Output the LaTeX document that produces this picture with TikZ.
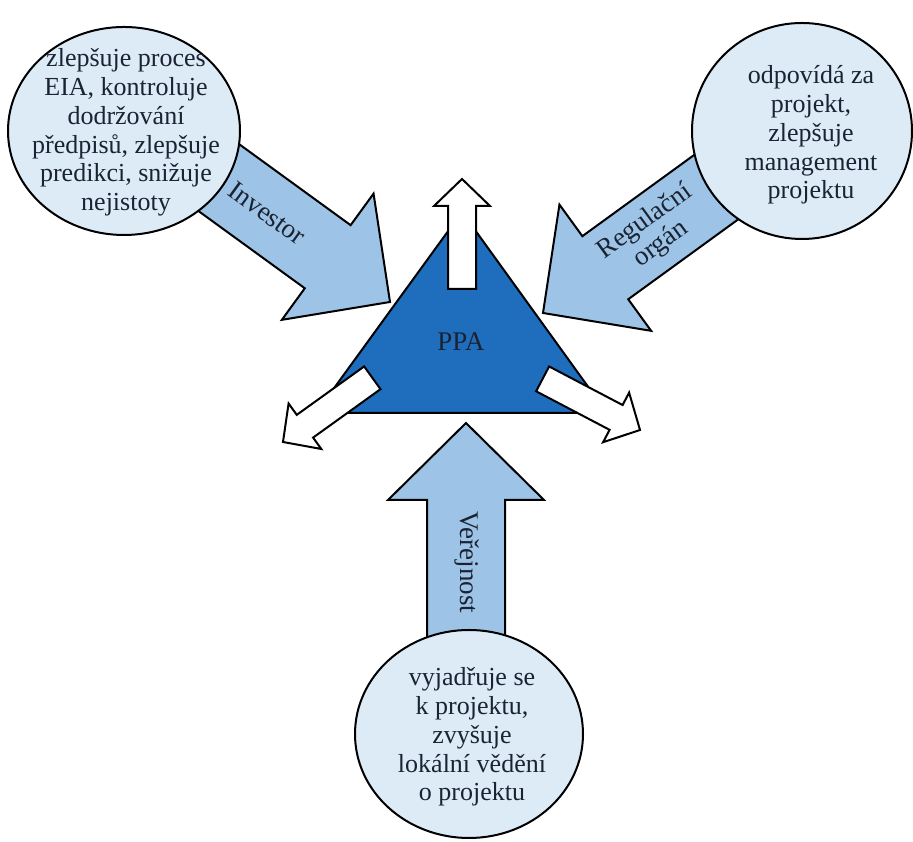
\documentclass[tikz,border=0pt]{standalone}
\usepackage{fontspec}
\setmainfont{Liberation Serif}
\usetikzlibrary{shapes.geometric,calc}
\definecolor{circfill}{HTML}{DDEBF7}
\definecolor{arrfill}{HTML}{9DC3E6}
\definecolor{trifill}{HTML}{1F6EBD}
\definecolor{txt}{HTML}{1B2333}
\begin{document}
\begin{tikzpicture}[x=1pt,y=1pt,
  bigarrow/.style={draw=black, line width=2pt, fill=arrfill, line join=miter},
  whitearrow/.style={draw=black, line width=2pt, fill=white, line join=miter},
  bubble/.style={ellipse, draw=black, line width=2pt, fill=circfill, inner sep=0pt},
  bubbletext/.style={align=center, text=txt, font=\fontsize{26}{28.8}\selectfont},
  arrowlabel/.style={align=center, text=txt, font=\fontsize{27}{27}\selectfont},
  tri/.style={draw=black, line width=2pt, fill=trifill, line join=miter},
  bigarr/.pic={\draw[bigarrow] (0,0) -- (-77,78) -- (-77,39) -- (-255,39) -- (-255,-39) -- (-77,-39) -- (-77,-78) -- cycle;},
  smallarr/.pic={\draw[whitearrow] (0,0) -- (-27,28) -- (-27,14) -- (-110,14) -- (-110,-14) -- (-27,-14) -- (-27,-28) -- cycle;}
]
\useasboundingbox (0,0) rectangle (913,842);

% big input arrows (tips as named coordinates)
\coordinate (invtip) at (390,540);
\coordinate (regtip) at (543,529);
\coordinate (vertip) at (466,419);
\pic[rotate=-36] at (invtip) {bigarr};
\pic[rotate=216] at (regtip) {bigarr};
\pic[rotate=90] at (vertip) {bigarr};

% bubbles
\node[bubble, minimum width=232pt, minimum height=208pt] (cinv) at (124,711) {};
\node[bubble, minimum width=220pt, minimum height=216pt] (creg) at (802,711) {};
\node[bubble, minimum width=228pt, minimum height=208pt] (cver) at (469,108) {};

\node[bubbletext] (tinv) at (126,709.5) {zlepšuje proces\\EIA, kontroluje\\dodržování\\předpisů, zlepšuje\\predikci, snižuje\\nejistoty};
\node[bubbletext] (treg) at (811,707) {odpovídá za\\projekt,\\zlepšuje\\management\\projektu};
\node[bubbletext] (tver) at (472,105) {vyjadřuje se\\k projektu,\\zvyšuje\\lokální vědění\\o projektu};

% arrow labels
\node[arrowlabel, rotate=-36] (linv) at (267,629) {Investor};
\node[arrowlabel, rotate=36] (lreg) at (653,609) {Regulační\\orgán};
\node[arrowlabel, rotate=-90] (lver) at (467,280) {Veřejnost};

% triangle
\coordinate (apex) at (462,630);
\coordinate (bl) at (316,429);
\coordinate (br) at (607,429);
\draw[tri] (apex) -- (bl) -- (br) -- cycle;
\node[text=txt, font=\fontsize{27}{27}\selectfont] (ppa) at (461,500) {PPA};

% white output arrows
\coordinate (uptip) at (462,663);
\coordinate (lefttip) at (283,400);
\coordinate (righttip) at (640,412);
\pic[rotate=90] at (uptip) {smallarr};
\pic[rotate=215.7] at (lefttip) {smallarr};
\pic[rotate=-27.7] at (righttip) {smallarr};
\end{tikzpicture}
\end{document}
